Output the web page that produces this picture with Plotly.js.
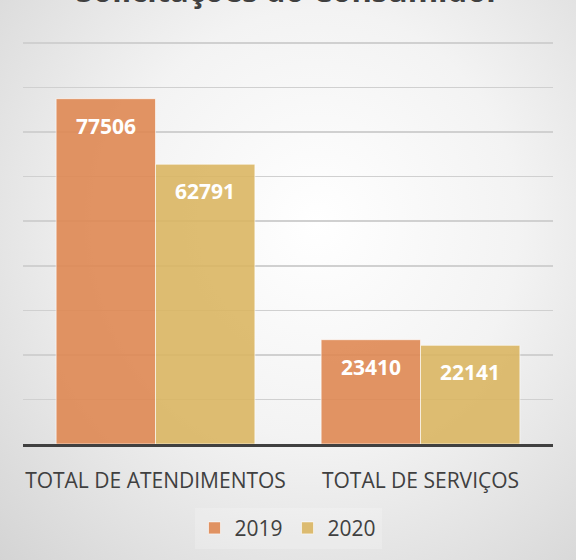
<!DOCTYPE html>
<html><head><meta charset="utf-8">
<script src="https://cdn.plot.ly/plotly-3.0.1.min.js"></script>
<style>
html,body{margin:0;padding:0;}
body{width:576px;height:560px;background:radial-gradient(ellipse at 55% 40%, #ffffff 0%, #f3f3f3 45%, #d4d4d4 100%);}
#chart{width:576px;height:560px;}
</style></head>
<body><div id="chart"></div>
<script>
const categories = ["TOTAL DE ATENDIMENTOS", "TOTAL DE SERVIÇOS"];
const years = ["2019", "2020"];
const values2019 = [77506, 23410];
const values2020 = [62791, 22141];
const colors = ["rgba(222,133,79,0.88)", "rgba(218,180,95,0.88)"];
const series = [values2019, values2020];

const traces = series.map((vals, i) => ({
  type: "bar",
  name: years[i],
  x: categories,
  y: vals,
  marker: {color: colors[i], line: {color: "rgba(255,255,255,0.6)", width: 1}},
  hoverinfo: "none"
}));

const offsets = [-0.1875, 0.1875];
const annotations = [];
series.forEach((vals, i) => {
  vals.forEach((v, j) => {
    annotations.push({
      x: j + offsets[i], y: v, xref: "x", yref: "y",
      text: "<b>" + v + "</b>", showarrow: false,
      yanchor: "middle", yshift: -27,
      font: {family: "Open Sans, sans-serif", size: 21, color: "#ffffff"}
    });
  });
});
annotations.push({
  xref: "paper", yref: "paper", x: 0.5, y: 1.122, yanchor: "middle",
  text: "<b>Solicitações do Consumidor</b>", showarrow: false,
  font: {family: "Open Sans, sans-serif", size: 31, color: "#404040"}
});

const layout = {
  width: 576, height: 560,
  margin: {l: 23, r: 23, t: 39, b: 115},
  paper_bgcolor: "rgba(0,0,0,0)",
  plot_bgcolor: "rgba(0,0,0,0)",
  barmode: "group",
  bargap: 0.25,
  bargroupgap: 0,
  showlegend: true,
  legend: {orientation: "h", x: 0.5, xanchor: "center", y: -0.205, yanchor: "middle",
           font: {family: "Open Sans, sans-serif", size: 21, color: "#404040"},
           bgcolor: "rgba(255,255,255,0.2)", traceorder: "normal"},
  xaxis: {type: "category", showgrid: false, showline: true, linecolor: "#404040", linewidth: 3,
          ticks: "", tickfont: {family: "Open Sans, sans-serif", size: 21, color: "#404040"}, ticklabelstandoff: 16},
  yaxis: {range: [0, 90900], dtick: 10000, showticklabels: false, showgrid: true,
          gridcolor: "#d0d0d0", gridwidth: 1.5, zeroline: false, fixedrange: true},
  annotations: annotations
};

Plotly.newPlot("chart", traces, layout, {displayModeBar: false, staticPlot: true});
</script></body></html>
